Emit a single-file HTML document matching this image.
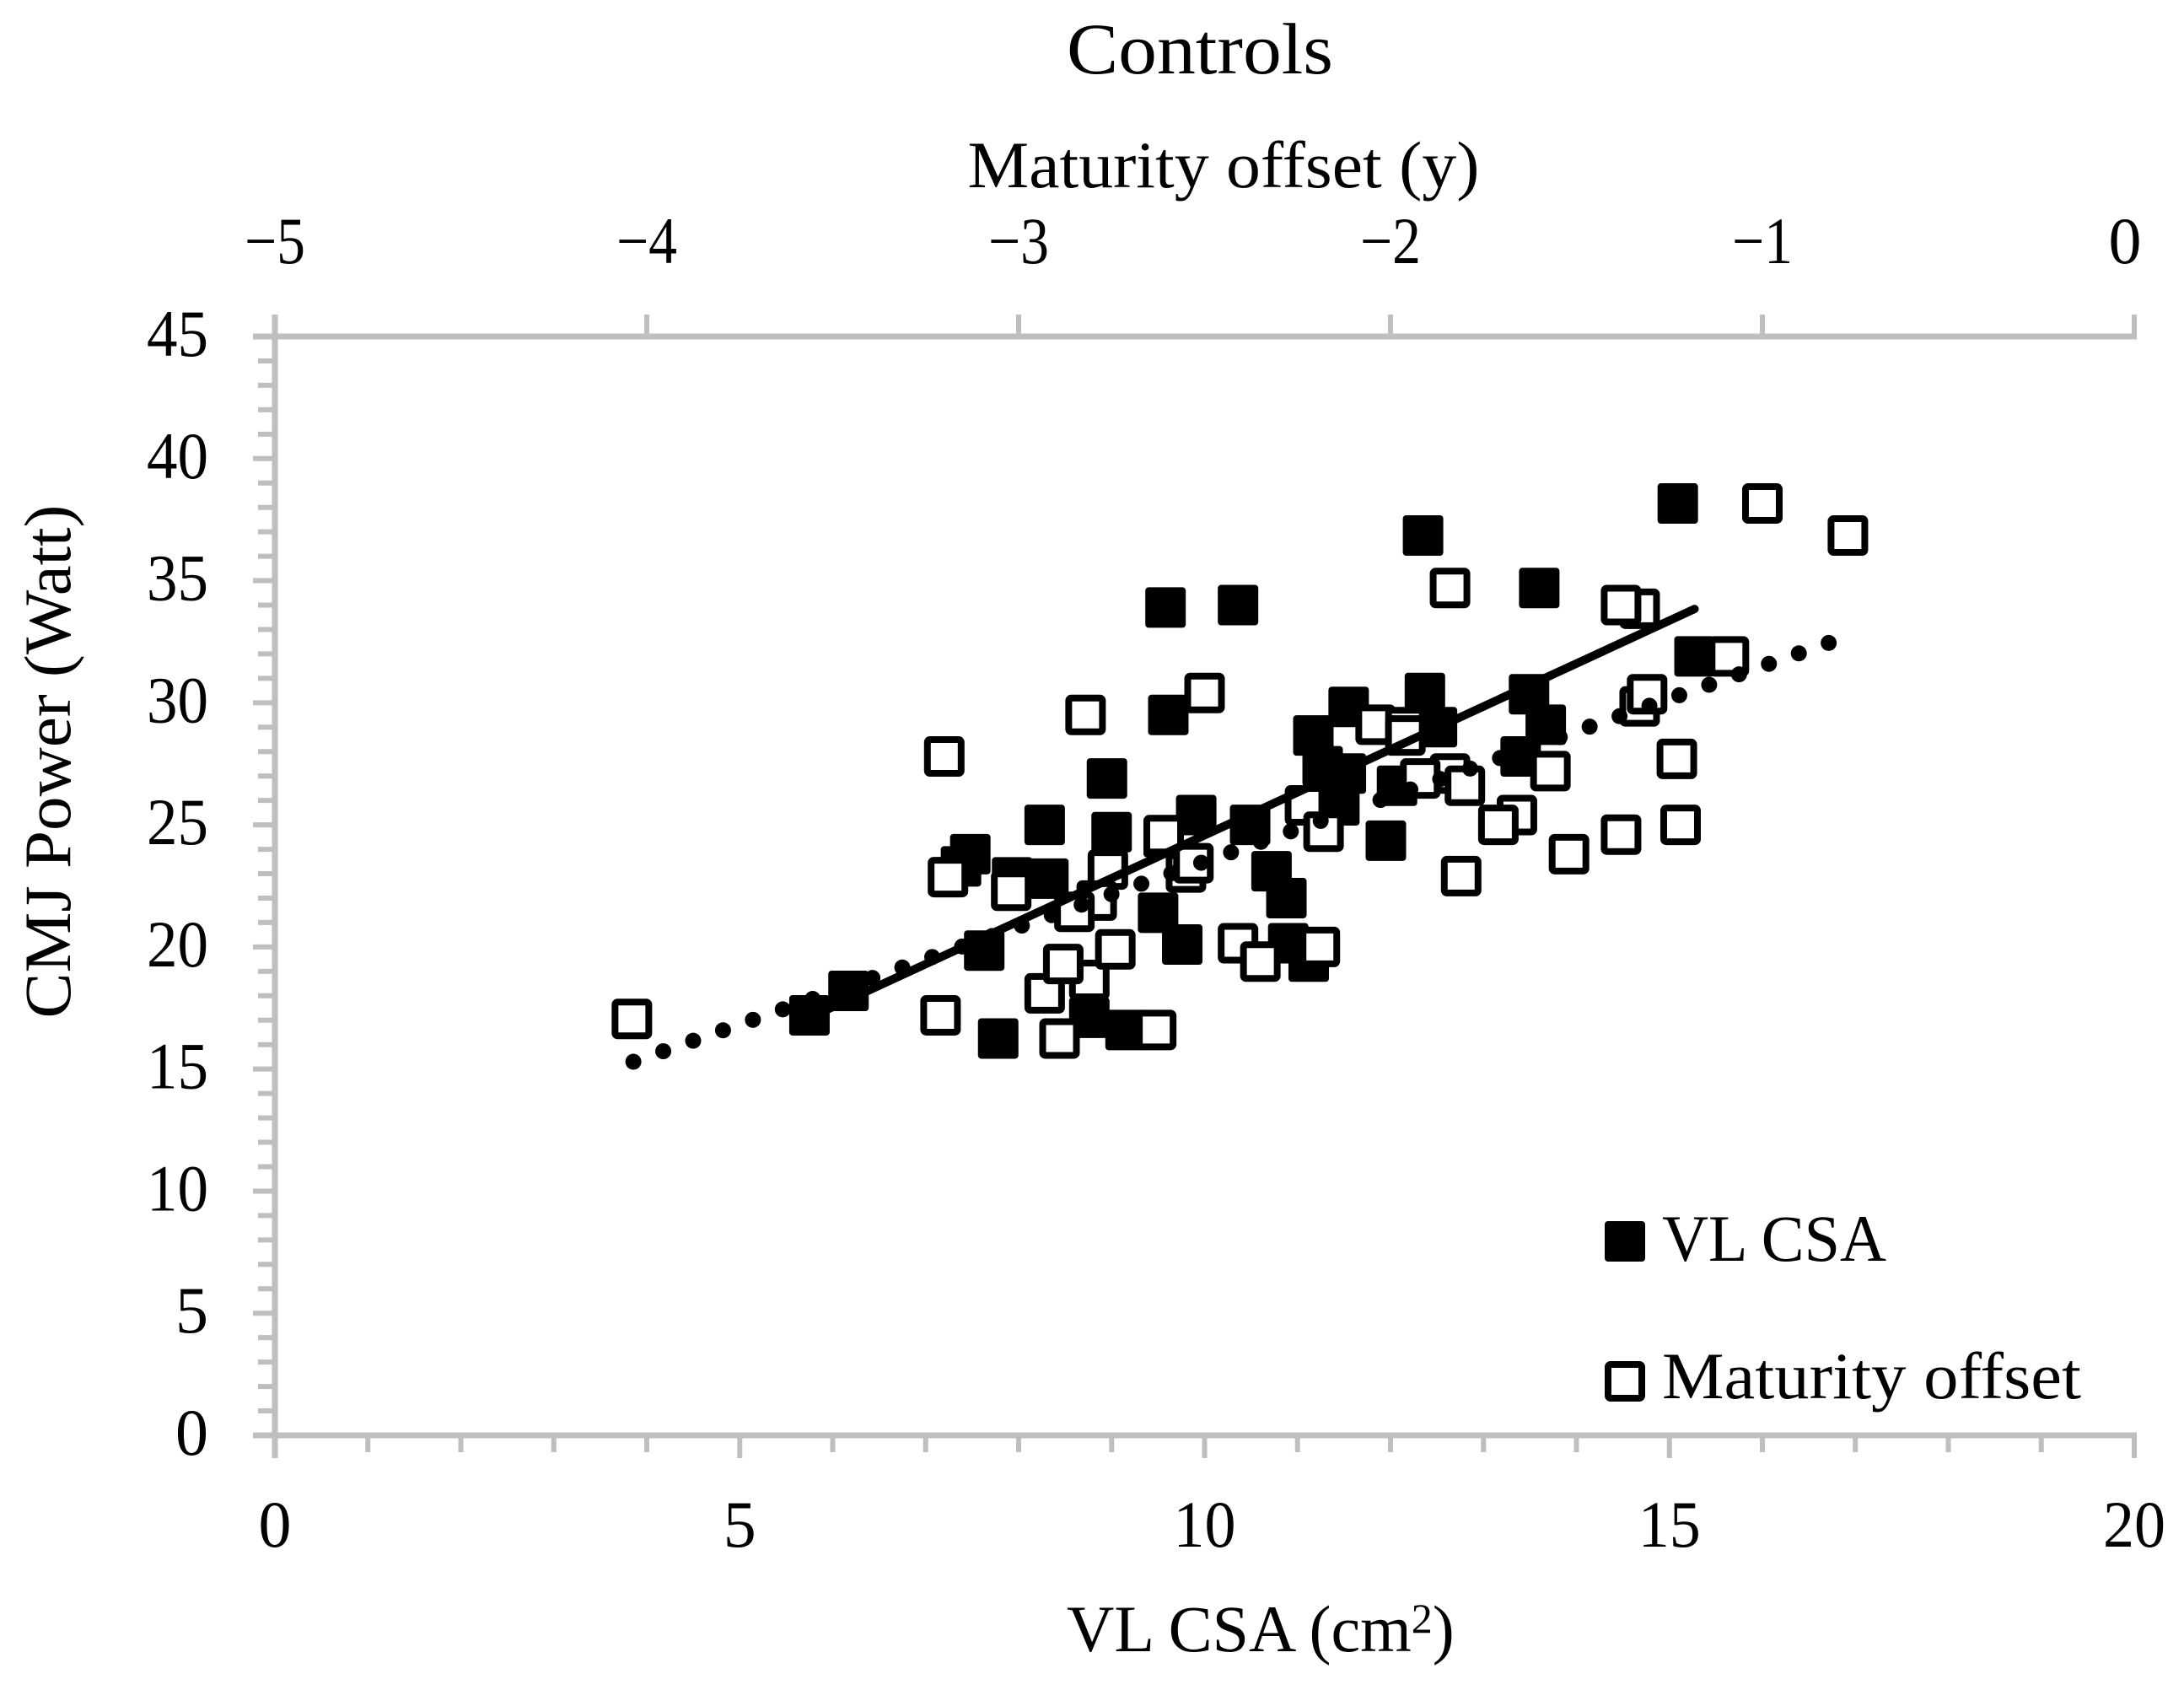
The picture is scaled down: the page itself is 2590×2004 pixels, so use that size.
<!DOCTYPE html>
<html lang="en">
<head>
<meta charset="utf-8">
<title>Controls</title>
<style>
html,body{margin:0;padding:0;background:#fff;}
svg{display:block;}
text{font-family:"Liberation Serif","DejaVu Serif",serif;fill:#000;}
</style>
</head>
<body>
<svg id="chart" xmlns="http://www.w3.org/2000/svg" width="2590" height="2004" viewBox="0 0 2590 2004">
  <rect x="0" y="0" width="2590" height="2004" fill="#fff"/>
  <g id="axes"></g>
  <g id="marks-filled"></g>
  <g id="marks-open"></g>
  <g id="trends"></g>
  <g id="labels"></g>

  <text x="1423" y="87" font-size="86" text-anchor="middle" textLength="316" lengthAdjust="spacingAndGlyphs">Controls</text>
  <text x="1451" y="222" font-size="78" text-anchor="middle" textLength="607" lengthAdjust="spacingAndGlyphs">Maturity offset (y)</text>
  <text x="1265" y="1958" font-size="78">VL CSA (cm<tspan font-size="50" dy="-22">2</tspan><tspan dy="22">)</tspan></text>
  <text transform="translate(83,903) rotate(-90)" x="0" y="0" font-size="78" text-anchor="middle" textLength="609" lengthAdjust="spacingAndGlyphs">CMJ Power (Watt)</text>

  <g>
    <g>
      <rect x="1903" y="1448" width="48" height="48" rx="4" fill="#000"/>
      <text x="1971" y="1495" font-size="78" textLength="266" lengthAdjust="spacingAndGlyphs">VL CSA</text>
    </g>
    <g>
      <rect x="1907" y="1618" width="40" height="40" rx="3" fill="#fff" stroke="#000" stroke-width="8"/>
      <text x="1971" y="1658" font-size="78" textLength="497" lengthAdjust="spacingAndGlyphs">Maturity offset</text>
    </g>
  </g>
</svg>
<script>
// ---- Data ----
const vlCsaX = [15.09,12.35,13.6,10.36,9.58,15.27,12.37,13.49,11.55,9.61,13.67,12.5,11.17,8.95,13.4,11.27,11.52,11.45,12.07,11.95,9.91,10.49,8.28,9.0,9.56,7.48,7.38,8.32,7.93,10.72,10.88,9.5,9.76,10.9,11.12,7.63,6.17,5.75,7.78,8.76,9.15];
const vlCsaPower = [38.16,36.85,34.7,34.0,33.9,31.9,30.4,30.35,29.83,29.5,29.1,29.0,28.66,26.9,27.8,27.4,27.1,25.8,26.6,24.35,25.4,25.0,25.0,24.7,24.5,23.8,23.3,22.8,22.85,23.1,22.0,21.4,20.1,20.15,19.4,19.85,18.2,17.2,16.25,17.1,16.6];
const maturityOffset = [-1.0,-0.77,-1.84,-1.33,-1.38,-1.09,-2.5,-1.33,-1.31,-2.82,-2.04,-1.96,-1.96,-3.2,-1.23,-1.57,-1.84,-1.92,-1.8,-2.23,-1.66,-1.71,-1.22,-1.38,-2.18,-2.61,-1.52,-2.76,-2.55,-2.53,-3.19,-3.02,-1.81,-2.79,-2.85,-2.41,-2.35,-2.19,-2.81,-2.93,-2.88,-2.74,-3.21,-2.89,-2.63,-4.04];
const maturityPower = [38.16,36.85,34.7,33.85,34.0,31.9,30.4,29.85,30.35,29.5,29.1,29.0,28.66,27.8,27.7,27.2,27.1,26.9,26.6,25.8,25.4,25.0,25.0,24.6,24.72,24.58,23.8,23.17,23.05,23.43,22.86,22.3,22.9,21.9,21.44,20.15,19.4,20.0,18.65,18.1,19.3,19.9,17.2,16.25,16.6,17.05];
const vlTrendX = [5.75,15.27];
const vlTrendY = [17.1,33.84];
const maturityTrendX = [-4.036,-0.82];
const maturityTrendY = [15.3,32.46];
const bottomTicks = [0,5,10,15,20];
const topTicks = [-5,-4,-3,-2,-1,0];
const leftTicks = [0,5,10,15,20,25,30,35,40,45];

// ---- Scales ----
const plotLeft = 326, plotRight = 2531, plotTop = 399, plotBottom = 1702;
function xBottom(v){ return plotLeft + (v - 0) / 20 * (plotRight - plotLeft); }
function xTop(v){ return plotLeft + (v + 5) / 5 * (plotRight - plotLeft); }
function yLeft(v){ return plotBottom - v / 45 * (plotBottom - plotTop); }

const NS = 'http://www.w3.org/2000/svg';
const axisColor = '#bfbfbf';
function make(tag, parent, attrs){
  const el = document.createElementNS(NS, tag);
  for (const k in attrs) el.setAttribute(k, attrs[k]);
  parent.appendChild(el);
  return el;
}
const axes = document.getElementById('axes');
const labels = document.getElementById('labels');

function axisLine(x1, y1, x2, y2, w){
  const el = make('line', axes, {x1:x1, y1:y1, x2:x2, y2:y2, stroke:axisColor, 'stroke-width':w});
  
  
  return el;
}

// Axis lines
axisLine(plotLeft, 373, plotLeft, 1729, 7);
axisLine(300, plotTop, plotRight + 3, plotTop, 7);
axisLine(300, plotBottom, plotRight + 3, plotBottom, 7);

// Left axis ticks: major every 5, minor every 1
for (let v = 0; v <= 45; v++){
  axisLine(v % 5 === 0 ? 300 : 306, yLeft(v), plotLeft, yLeft(v), 6);
}
// Bottom axis ticks: major every 5, minor every 1
for (let v = 0; v <= 20; v++){
  axisLine(xBottom(v), plotBottom, xBottom(v), v % 5 === 0 ? 1729 : 1722, 6);
}
// Top axis ticks
topTicks.forEach(function(v){
  axisLine(xTop(v), 373, xTop(v), plotTop, 6);
});

// Tick labels
leftTicks.forEach(function(v){
  const t = make('text', labels, {x:247, y:yLeft(v) + 23, 'font-size':78, 'text-anchor':'end'});
  if (v >= 10){
    t.setAttribute('textLength', '73');
    t.setAttribute('lengthAdjust', 'spacingAndGlyphs');
  }
  
  
  t.textContent = String(v);
});
bottomTicks.forEach(function(v){
  const t = make('text', labels, {x:xBottom(v), y:1834, 'font-size':78, 'text-anchor':'middle'});
  if (v >= 10){
    t.setAttribute('textLength', '74');
    t.setAttribute('lengthAdjust', 'spacingAndGlyphs');
  }
  
  
  t.textContent = String(v);
});
topTicks.forEach(function(v){
  const t = make('text', labels, {x:xTop(v) - (v === 0 ? 11 : 0), y:312, 'font-size':78, 'text-anchor':'middle'});
  if (v < 0){
    t.setAttribute('textLength', '72');
    t.setAttribute('lengthAdjust', 'spacingAndGlyphs');
  }
  
  
  t.textContent = v < 0 ? '\u2212' + Math.abs(v) : String(v);
});

// Series
const filledGroup = document.getElementById('marks-filled');
vlCsaX.forEach(function(x, i){
  const r = make('rect', filledGroup, {x:xBottom(x) - 24, y:yLeft(vlCsaPower[i]) - 24, width:48, height:48, rx:4, fill:'#000'});
  
  
});
const openGroup = document.getElementById('marks-open');
maturityOffset.forEach(function(x, i){
  const r = make('rect', openGroup, {x:xTop(x) - 20, y:yLeft(maturityPower[i]) - 20, width:40, height:40, rx:3, fill:'#fff', stroke:'#000', 'stroke-width':8});
  
  
});

// Trendlines
const trends = document.getElementById('trends');
const solid = make('line', trends, {x1:xBottom(vlTrendX[0]), y1:yLeft(vlTrendY[0]), x2:xBottom(vlTrendX[1]), y2:yLeft(vlTrendY[1]), stroke:'#000', 'stroke-width':10, 'stroke-linecap':'round'});


const dotted = make('line', trends, {x1:xTop(maturityTrendX[0]), y1:yLeft(maturityTrendY[0]), x2:xTop(maturityTrendX[1]), y2:yLeft(maturityTrendY[1]), stroke:'#000', 'stroke-width':19, 'stroke-linecap':'round', 'stroke-dasharray':'0 37.55'});


</script>
</body>
</html>
